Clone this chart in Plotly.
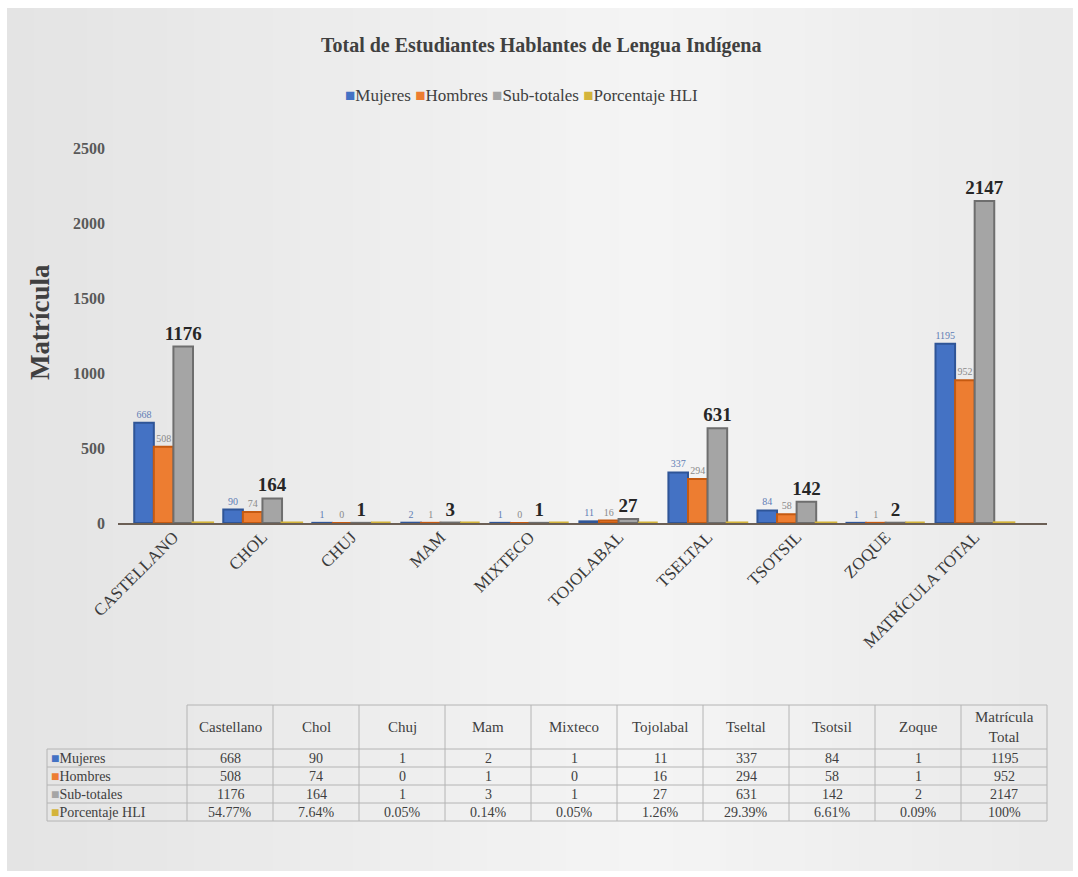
import plotly.graph_objects as go

# --- data -------------------------------------------------------------
categorias = ["CASTELLANO", "CHOL", "CHUJ", "MAM", "MIXTECO", "TOJOLABAL",
              "TSELTAL", "TSOTSIL", "ZOQUE", "MATRÍCULA TOTAL"]
encabezados = ["Castellano", "Chol", "Chuj", "Mam", "Mixteco", "Tojolabal",
               "Tseltal", "Tsotsil", "Zoque", "Matrícula<br>Total"]
mujeres = [668, 90, 1, 2, 1, 11, 337, 84, 1, 1195]
hombres = [508, 74, 0, 1, 0, 16, 294, 58, 1, 952]
subtotales = [1176, 164, 1, 3, 1, 27, 631, 142, 2, 2147]
porcentaje_hli = [54.77, 7.64, 0.05, 0.14, 0.05, 1.26, 29.39, 6.61, 0.09, 100]
y_ticks = [0, 500, 1000, 1500, 2000, 2500]

# --- layout geometry (pixels) ----------------------------------------
W, H = 1078, 877
PL, PR, PT, PB = 120, 1045, 148, 523   # plot area edges

def px(x):
    return (x - PL) / (PR - PL)

def py(y):
    return (PB - y) / (PB - PT)

SERIF = "Liberation Serif, Times New Roman, serif"
TXT = "#404040"
C_MUJ, C_HOM, C_SUB, C_HLI = "#4472C4", "#ED7D31", "#A5A5A5", "#D4B43A"

fig = go.Figure()

def fmt_pct(v):
    return "100%" if v == 100 else f"{v:.2f}%"

fig.add_trace(go.Bar(
    name="Mujeres", x=categorias, y=mujeres,
    marker=dict(color=C_MUJ, line=dict(color="#2F5597", width=2)),
    text=[str(v) for v in mujeres], textposition="outside",
    textfont=dict(family=SERIF, size=10, color="#5F7DB5"),
    constraintext="none", cliponaxis=False))
fig.add_trace(go.Bar(
    name="Hombres", x=categorias, y=hombres,
    marker=dict(color=C_HOM, line=dict(color="#C55A11", width=2)),
    text=[str(v) for v in hombres], textposition="outside",
    textfont=dict(family=SERIF, size=10, color="#8A8A8A"),
    constraintext="none", cliponaxis=False))
fig.add_trace(go.Bar(
    name="Sub-totales", x=categorias, y=subtotales,
    marker=dict(color=C_SUB, line=dict(color="#6E6E6E", width=2)),
    text=[f"<b>{v}</b>" for v in subtotales], textposition="outside",
    textfont=dict(family=SERIF, size=19, color="#262626"),
    constraintext="none", cliponaxis=False))
fig.add_trace(go.Bar(
    name="Porcentaje HLI", x=categorias, y=[v / 100 for v in porcentaje_hli],
    marker=dict(color=C_HLI, line=dict(color=C_HLI, width=3)),
    cliponaxis=False))

shapes = []
annotations = []

def note(text, x, y, size=12, color="#404040", xanchor="center", **kw):
    annotations.append(dict(text=text, xref="paper", yref="paper", x=px(x), y=py(y),
                            xanchor=xanchor, yanchor="middle", showarrow=False,
                            font=dict(family=SERIF, size=size, color=color), **kw))

# background: white frame and soft grey gradient panel
n_strips = 40
x_left, x_right = 7, 1072
for i in range(n_strips):
    xa = x_left + (x_right - x_left) * i / n_strips
    xb = x_left + (x_right - x_left) * (i + 1) / n_strips
    t = (i + 0.5) / n_strips
    # lighter toward the middle-right, darker at the edges
    light = max(0.0, 1 - abs(t - 0.6) / 0.6)
    g = int(228 + 17 * light)
    shapes.append(dict(type="rect", xref="paper", yref="paper", layer="below",
                       x0=px(xa), x1=px(xb) + 0.001, y0=py(871), y1=py(8),
                       fillcolor=f"rgb({g},{g},{g})", line=dict(width=0)))

# category axis baseline
shapes.append(dict(type="line", xref="paper", yref="paper",
                   x0=px(118), x1=px(1047), y0=py(524), y1=py(524),
                   line=dict(color="#6B5F55", width=2)))

# title
note("<b>Total de Estudiantes Hablantes de Lengua Indígena</b>", 541, 46, size=20)
# legend row
leyenda = [("Mujeres", C_MUJ), ("Hombres", C_HOM), ("Sub-totales", C_SUB),
           ("Porcentaje HLI", C_HLI)]
note("&nbsp;".join(f"<span style='color:{c}'>■</span>{n}" for n, c in leyenda),
     521, 96, size=17)
# y axis title
note("<b>Matrícula</b>", 40, 322, size=27, textangle=-90)

# data table
col_edges = [187 + 86 * i for i in range(11)]
row_edges = [749, 767, 785, 803, 821]
head_top = 705
LINE = "#B4B4B4"

shapes.append(dict(type="line", xref="paper", yref="paper",
                   x0=px(col_edges[0]), x1=px(col_edges[-1]),
                   y0=py(head_top), y1=py(head_top), line=dict(color=LINE, width=1)))
for r in row_edges:
    shapes.append(dict(type="line", xref="paper", yref="paper",
                       x0=px(47), x1=px(col_edges[-1]),
                       y0=py(r), y1=py(r), line=dict(color=LINE, width=1)))
for c in col_edges:
    shapes.append(dict(type="line", xref="paper", yref="paper",
                       x0=px(c), x1=px(c), y0=py(head_top), y1=py(row_edges[-1]),
                       line=dict(color=LINE, width=1)))
shapes.append(dict(type="line", xref="paper", yref="paper",
                   x0=px(47), x1=px(47), y0=py(row_edges[0]), y1=py(row_edges[-1]),
                   line=dict(color=LINE, width=1)))

for i, h in enumerate(encabezados):
    cx = (col_edges[i] + col_edges[i + 1]) / 2
    note(h, cx, (head_top + row_edges[0]) / 2, size=15)

filas = [
    ("Mujeres", C_MUJ, [str(v) for v in mujeres]),
    ("Hombres", C_HOM, [str(v) for v in hombres]),
    ("Sub-totales", C_SUB, [str(v) for v in subtotales]),
    ("Porcentaje HLI", C_HLI, [fmt_pct(v) for v in porcentaje_hli]),
]
for k, (nombre, color, vals) in enumerate(filas):
    cy = (row_edges[k] + row_edges[k + 1]) / 2
    note(f"<span style='color:{color}'>■</span>{nombre}", 49, cy, size=14,
         xanchor="left")
    for i, v in enumerate(vals):
        cx = (col_edges[i] + col_edges[i + 1]) / 2
        note(v, cx, cy, size=14)

fig.update_layout(
    width=W, height=H,
    margin=dict(l=PL, r=W - PR, t=PT, b=H - PB, autoexpand=False),
    paper_bgcolor="white", plot_bgcolor="rgba(0,0,0,0)",
    barmode="group", bargap=0.12, bargroupgap=0.0,
    font=dict(family=SERIF, color=TXT),
    showlegend=False,
    xaxis=dict(range=[-0.6, 9.79], tickangle=-45, showgrid=False, showline=False,
               zeroline=False, ticks="",
               tickfont=dict(family=SERIF, size=17, color="#3A3A3A")),
    yaxis=dict(range=[0, 2500], tickvals=y_ticks, ticktext=[f"<b>{v}</b>" for v in y_ticks],
               showgrid=False, zeroline=False, showline=False, ticks="",
               ticklabelstandoff=14,
               tickfont=dict(family=SERIF, size=16, color="#595959")),
    shapes=shapes, annotations=annotations,
)

fig.write_html("out.html")
